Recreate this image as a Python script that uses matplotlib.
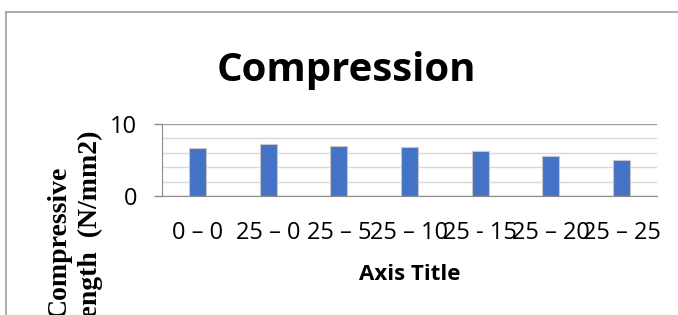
import matplotlib.pyplot as plt
from matplotlib.lines import Line2D

categories = ["0 – 0", "25 – 0", "25 – 5", "25 – 10", "25 - 15", "25 – 20", "25 – 25"]
strength = [6.7, 7.2, 7.0, 6.8, 6.3, 5.6, 5.0]

fig = plt.figure(figsize=(6.78, 3.15), dpi=100)
ax = fig.add_axes([162 / 678, 1 - 196 / 315, 495 / 678, 72 / 315])

x = range(len(categories))
ax.bar(x, strength, width=0.24, color="#4472c4", edgecolor="#c8c8c8", linewidth=0.8, zorder=3)

ax.set_xlim(-0.5, len(categories) - 0.5)
ax.set_ylim(0, 10)
ax.set_yticks([0, 10])
ax.set_yticks([2, 4, 6, 8], minor=True)
ax.grid(axis="y", which="major", color="#a0a0a0", linewidth=1.0, zorder=0)
ax.grid(axis="y", which="minor", color="#d9d9d9", linewidth=1.0, zorder=0)

ax.set_xticks(list(x))
ax.set_xticklabels(categories, fontsize=17, family="Open Sans")
for lbl in ax.get_yticklabels():
    lbl.set_family("Open Sans")
    lbl.set_fontsize(17)
ax.tick_params(axis="x", length=0, pad=18)
ax.tick_params(axis="y", which="major", length=5.8, width=1.0, color="#8c8c8c", pad=12)
ax.tick_params(axis="y", which="minor", length=0)

for side in ["top", "right"]:
    ax.spines[side].set_visible(False)
ax.spines["left"].set_color("#8c8c8c")
ax.spines["bottom"].set_color("#8c8c8c")

fig.text(346 / 678, 1 - 81 / 315, "Compression", ha="center", va="baseline",
         fontsize=29, fontweight="bold", family="Open Sans")
fig.text(410 / 678, 1 - 280 / 315, "Axis Title", ha="center", va="baseline",
         fontsize=16, fontweight="bold", family="Open Sans")
# the y title is partly cut off by the bottom edge, as in the original chart
fig.text(75 / 678, 1 - 242 / 315, "Compressive\nStrength  (N/mm2)", rotation=90,
         ha="center", va="center", multialignment="center", linespacing=1.3,
         fontsize=20, fontweight="bold", family="Liberation Serif")

# chart area border (left and top edges)
fig.add_artist(Line2D([6 / 678, 6 / 678], [0, 1 - 12 / 315], transform=fig.transFigure,
                      color="#a6a6a6", linewidth=1.3))
fig.add_artist(Line2D([6 / 678, 1], [1 - 12 / 315, 1 - 12 / 315], transform=fig.transFigure,
                      color="#a6a6a6", linewidth=1.3))

fig.savefig("out.png", dpi=100)
